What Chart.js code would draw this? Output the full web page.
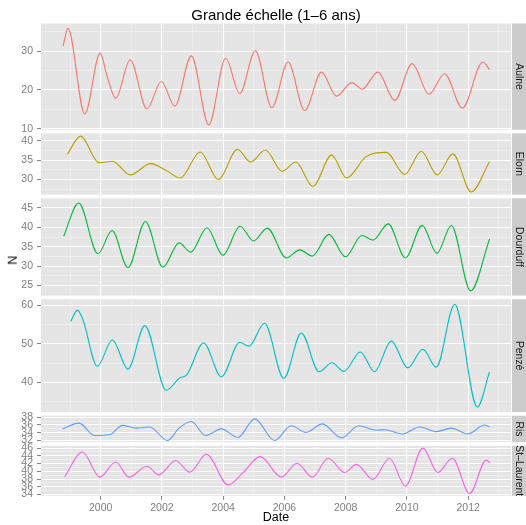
<!DOCTYPE html>
<html>
<head>
<meta charset="utf-8">
<script src="https://cdn.jsdelivr.net/npm/chart.js@4.4.0/dist/chart.umd.min.js"></script>
<style>
  html, body { margin: 0; padding: 0; background: #fff; }
  #wrap { position: relative; width: 526px; height: 525px; overflow: hidden;
          font-family: "Liberation Sans", Arial, sans-serif; }
  #wrap canvas { position: absolute; left: 0; top: 0; }
  .lbl { position: absolute; color: #000; white-space: nowrap; text-align: center; }
  #title { left: 41px; width: 470px; top: 6.6px; font-size: 15px; line-height: 15px; }
  #xlab { left: 41px; width: 470px; top: 511px; font-size: 12.5px; line-height: 12.5px; }
  #ylab { left: -7.5px; width: 40px; top: 253.5px; font-size: 12.5px; line-height: 12.5px;
          transform: rotate(-90deg); }
</style>
</head>
<body>
<div id="wrap"></div>
<script>
// facet labels and colours (ggplot hue palette)
const rivers = ['Aulne', 'Elorn', 'Dourduff', 'Penzé', 'Ris', 'St–Laurent'];
const riverColors = ['#F8766D', '#B79F00', '#00BA38', '#00BFC4', '#619CFF', '#F564E3'];

// x axis: years with labels, minor lines in between
const yearTicks = [2000, 2002, 2004, 2006, 2008, 2010, 2012];
const yearMinor = [1999, 2001, 2003, 2005, 2007, 2009, 2011, 2013];

// smoothed N per river (decimal year, value)
const aulneDate = [1998.77, 1998.93, 1999.48, 1999.98, 2000.2, 2000.49, 2000.96, 2001.51, 2001.98, 2002.42, 2002.96, 2003.53, 2004.08, 2004.54, 2005.05, 2005.59, 2006.12, 2006.66, 2007.21, 2007.70, 2008.20, 2008.54, 2009.05, 2009.60, 2010.17, 2010.72, 2011.23, 2011.81, 2012.48, 2012.70];
const aulneN = [31.3, 35.9, 13.8, 29.5, 23.8, 17.8, 27.8, 15.1, 22.2, 15.8, 28.8, 11.0, 28.2, 19.1, 30.1, 15.4, 27.2, 14.7, 24.6, 18.4, 21.9, 20.2, 24.6, 17.3, 26.8, 18.9, 24.2, 15.3, 27.2, 25.2];

const elornDate = [1998.91, 1999.34, 1999.95, 2000.38, 2000.97, 2001.63, 2002.09, 2002.60, 2003.25, 2003.84, 2004.47, 2004.89, 2005.38, 2005.93, 2006.37, 2006.93, 2007.54, 2008.03, 2008.67, 2009.33, 2009.93, 2010.47, 2010.99, 2011.50, 2012.10, 2012.70];
const elornN = [36.5, 41.2, 34.3, 34.7, 31.2, 34.1, 32.6, 30.4, 37.1, 30.0, 37.8, 34.5, 37.6, 32.1, 34.5, 28.2, 36.3, 30.4, 35.9, 37.0, 31.3, 37.3, 31.2, 36.6, 26.8, 34.6];

const dourduffDate = [1998.79, 1999.28, 1999.91, 2000.37, 2000.89, 2001.46, 2002.03, 2002.56, 2002.94, 2003.47, 2003.99, 2004.55, 2004.99, 2005.44, 2006.06, 2006.50, 2006.91, 2007.45, 2007.99, 2008.53, 2008.89, 2009.39, 2009.95, 2010.50, 2010.98, 2011.45, 2012.08, 2012.70];
const dourduffN = [37.7, 46.3, 33.2, 39.2, 29.6, 41.5, 29.7, 36.0, 33.6, 39.9, 32.8, 40.3, 36.5, 39.8, 32.1, 34.2, 32.6, 38.2, 32.4, 37.9, 36.7, 40.9, 32.1, 40.5, 33.3, 40.5, 23.6, 37.0];

const penzeDate = [1999.02, 1999.24, 1999.42, 1999.89, 2000.38, 2000.89, 2001.44, 2002.14, 2002.58, 2002.80, 2003.36, 2003.94, 2004.54, 2004.84, 2005.35, 2005.98, 2006.55, 2007.13, 2007.55, 2007.94, 2008.48, 2008.94, 2009.49, 2010.03, 2010.52, 2010.96, 2011.56, 2012.30, 2012.70];
const penzeN = [55.8, 58.7, 56.2, 44.2, 51.0, 43.5, 54.7, 38.0, 41.2, 41.9, 50.2, 41.5, 50.4, 49.4, 55.3, 41.1, 52.8, 42.8, 45.1, 42.9, 47.9, 42.8, 50.7, 43.8, 48.6, 44.0, 60.2, 33.7, 42.8];

const risDate = [1998.75, 1999.29, 1999.80, 2000.29, 2000.71, 2001.16, 2001.60, 2002.18, 2002.56, 2002.96, 2003.42, 2003.94, 2004.48, 2005.03, 2005.68, 2006.22, 2006.71, 2007.24, 2007.86, 2008.43, 2009.00, 2009.27, 2009.85, 2010.41, 2010.96, 2011.45, 2011.99, 2012.54, 2012.70];
const risN = [35.0, 36.5, 33.3, 33.5, 35.9, 35.2, 35.5, 32.0, 35.2, 36.9, 33.3, 35.0, 32.8, 37.6, 32.0, 35.8, 34.1, 36.3, 32.7, 35.8, 34.7, 34.8, 33.7, 35.5, 34.3, 35.2, 33.7, 36.0, 35.5];

const laurentDate = [1998.82, 1999.40, 1999.97, 2000.49, 2000.92, 2001.51, 2001.90, 2002.45, 2002.91, 2003.45, 2004.16, 2004.65, 2005.21, 2005.90, 2006.41, 2006.91, 2007.43, 2007.97, 2008.35, 2008.89, 2009.43, 2009.95, 2010.52, 2011.01, 2011.48, 2012.05, 2012.59, 2012.72];
const laurentN = [38.6, 45.0, 38.5, 42.4, 38.5, 41.3, 39.1, 42.8, 39.8, 44.4, 36.5, 39.7, 43.8, 38.5, 42.1, 38.5, 43.4, 39.7, 41.8, 37.9, 43.4, 36.2, 46.0, 39.7, 43.4, 34.3, 42.9, 42.2];

// y tick labels per facet and minor breaks
const aulneTicks = [10, 20, 30], aulneMinor = [15, 25, 35];
const elornTicks = [30, 35, 40], elornMinor = [27.5, 32.5, 37.5];
const dourduffTicks = [25, 30, 35, 40, 45], dourduffMinor = [27.5, 32.5, 37.5, 42.5];
const penzeTicks = [40, 50, 60], penzeMinor = [35, 45, 55];
const risTicks = [32, 34, 36, 38], risMinor = [33, 35, 37];
const laurentTicks = [34, 36, 38, 40, 42, 44, 46], laurentMinor = [35, 37, 39, 41, 43, 45];

const facets = [
    { date: aulneDate, n: aulneN, ticks: aulneTicks, minor: aulneMinor, lim: [9.75, 37.15] },
    { date: elornDate, n: elornN, ticks: elornTicks, minor: elornMinor, lim: [26.1, 41.9] },
    { date: dourduffDate, n: dourduffN, ticks: dourduffTicks, minor: dourduffMinor, lim: [22.4, 47.5] },
    { date: penzeDate, n: penzeN, ticks: penzeTicks, minor: penzeMinor, lim: [32.4, 61.5] },
    { date: risDate, n: risN, ticks: risTicks, minor: risMinor, lim: [31.6, 38.4] },
    { date: laurentDate, n: laurentN, ticks: laurentTicks, minor: laurentMinor, lim: [33.7, 46.6] },
];

const W = 526, H = 525;
const PLOT_LEFT = 41, PLOT_RIGHT = 511, PLOT_TOP = 23.5;
const PX_PER_N = 3.875, GAP = 3.7;
const X_AXIS_H = 16;
const FONT = '"Liberation Sans", Arial, sans-serif';
const GREY50 = '#7F7F7F';

Chart.defaults.font.family = FONT;

function tickList(major, minor) {
    return major.map(v => ({ value: v, minor: false }))
        .concat(minor.map(v => ({ value: v, minor: true })))
        .sort((a, b) => a.value - b.value);
}

const gridColor = (c) => (c.tick && c.tick.minor ? '#F2F2F2' : '#FFFFFF');
const gridWidth = (c) => (c.tick && c.tick.minor ? 0.6 : 1.1);
const tickColor = (c) => (c.tick && c.tick.minor ? 'rgba(0,0,0,0)' : GREY50);

// panel background plus the grey strip with the facet name on the right
const panelFrame = {
    id: 'panelFrame',
    beforeDraw(chart, args, opts) {
        const { ctx, chartArea: a } = chart;
        ctx.save();
        ctx.fillStyle = '#E5E5E5';
        ctx.fillRect(a.left, a.top, a.right - a.left, a.bottom - a.top);
        ctx.fillStyle = '#CCCCCC';
        ctx.fillRect(a.right + 1, a.top, W - a.right, a.bottom - a.top);
        ctx.beginPath();
        ctx.rect(a.right + 1, a.top, W - a.right, a.bottom - a.top);
        ctx.clip();
        ctx.translate(519, (a.top + a.bottom) / 2);
        ctx.rotate(Math.PI / 2);
        ctx.fillStyle = '#1A1A1A';
        ctx.font = '10.4px ' + FONT;
        ctx.textAlign = 'center';
        ctx.textBaseline = 'middle';
        ctx.fillText(opts.label, 0, 0);
        ctx.restore();
    }
};

const wrap = document.getElementById('wrap');
let panelTop = PLOT_TOP;

facets.forEach((f, i) => {
    const last = i === facets.length - 1;
    const h = (f.lim[1] - f.lim[0]) * PX_PER_N;
    const panelBottom = panelTop + h;

    const canvas = document.createElement('canvas');
    canvas.width = W;
    canvas.height = H;
    wrap.appendChild(canvas);

    new Chart(canvas, {
        type: 'line',
        data: {
            datasets: [{
                data: f.date.map((d, j) => ({ x: d, y: f.n[j] })),
                borderColor: riverColors[i],
                borderWidth: 1.1,
                pointRadius: 0,
                cubicInterpolationMode: 'monotone',
                fill: false
            }]
        },
        options: {
            responsive: false,
            animation: false,
            events: [],
            layout: {
                padding: {
                    left: 0,
                    right: W - PLOT_RIGHT,
                    top: panelTop,
                    bottom: H - panelBottom - (last ? X_AXIS_H : 0)
                }
            },
            plugins: {
                legend: { display: false },
                tooltip: { enabled: false },
                panelFrame: { label: rivers[i] }
            },
            scales: {
                x: {
                    type: 'linear',
                    min: 1998.05,
                    max: 2013.4,
                    afterBuildTicks: (s) => { s.ticks = tickList(yearTicks, yearMinor); },
                    afterFit: (s) => { s.height = last ? X_AXIS_H : 0; },
                    border: { display: false },
                    grid: {
                        color: gridColor,
                        lineWidth: gridWidth,
                        drawTicks: last,
                        tickLength: 4,
                        tickColor: tickColor,
                        tickWidth: 1
                    },
                    ticks: {
                        display: last,
                        autoSkip: false,
                        maxRotation: 0,
                        padding: 2,
                        color: GREY50,
                        font: { size: 10.5 },
                        callback: (v) => (yearTicks.includes(v) ? String(v) : '')
                    }
                },
                y: {
                    type: 'linear',
                    min: f.lim[0],
                    max: f.lim[1],
                    afterBuildTicks: (s) => { s.ticks = tickList(f.ticks, f.minor); },
                    afterFit: (s) => { s.width = PLOT_LEFT; },
                    border: { display: false },
                    grid: {
                        color: gridColor,
                        lineWidth: gridWidth,
                        tickLength: 4,
                        tickColor: tickColor,
                        tickWidth: 1
                    },
                    ticks: {
                        autoSkip: false,
                        padding: 4,
                        color: GREY50,
                        font: { size: 10.5 },
                        callback: (v) => (f.ticks.includes(v) ? String(v) : '')
                    }
                }
            }
        },
        plugins: [panelFrame]
    });

    panelTop = panelBottom + GAP;
});

// overall title and axis titles
[['title', 'Grande échelle (1–6 ans)'], ['xlab', 'Date'], ['ylab', 'N']].forEach(([id, text]) => {
    const d = document.createElement('div');
    d.id = id;
    d.className = 'lbl';
    d.textContent = text;
    wrap.appendChild(d);
});
</script>
</body>
</html>
